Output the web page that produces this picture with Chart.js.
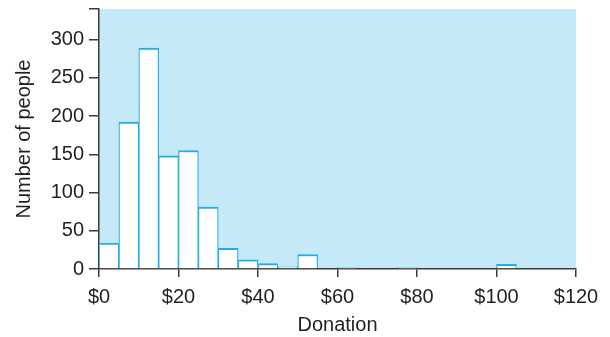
<!DOCTYPE html>
<html>
<head>
<meta charset="utf-8">
<script src="https://cdn.jsdelivr.net/npm/chart.js@4"></script>
<style>
  html, body { margin: 0; padding: 0; background: #ffffff; }
  #wrap { width: 610px; height: 337px; }
</style>
</head>
<body>
<div id="wrap"><canvas id="chart" width="610" height="337"></canvas></div>
<script>
// Histogram of donation amounts, $5 bins (empty bins omitted)
const binLows = [0, 5, 10, 15, 20, 25, 30, 35, 40, 45, 50, 60, 75, 100];
const counts = [34, 192, 289, 148, 155, 81, 27, 12, 7, 3, 19, 2, 2, 6];
const binWidth = 5;
const xTicks = [0, 20, 40, 60, 80, 100, 120];
const yTicks = [0, 50, 100, 150, 200, 250, 300];

const points = binLows.map((lo, i) => ({ x: lo + binWidth / 2, y: counts[i] }));

const plotBackground = {
  id: 'plotBackground',
  beforeDraw(chart) {
    const { ctx, chartArea: a } = chart;
    ctx.save();
    ctx.fillStyle = '#c6e9f8';
    ctx.fillRect(a.left, a.top, a.right - a.left, a.bottom - a.top);
    ctx.restore();
  }
};

const font = { family: '"Liberation Sans", Arial, sans-serif', size: 20 };
const axisColor = '#3a3a3a';

new Chart(document.getElementById('chart'), {
  type: 'bar',
  data: {
    datasets: [{
      data: points,
      backgroundColor: '#ffffff',
      borderColor: '#1fafe8',
      borderWidth: { top: 2, left: 1.2, right: 1.2, bottom: 0 },
      borderSkipped: 'start',
      barPercentage: 1,
      categoryPercentage: 1
    }]
  },
  options: {
    responsive: false,
    animation: false,
    layout: { padding: { left: 0, right: 34, top: 9, bottom: 0 } },
    plugins: { legend: { display: false }, tooltip: { enabled: false } },
    scales: {
      x: {
        type: 'linear',
        min: 0,
        max: 120,
        offset: false,
        afterBuildTicks(scale) { scale.ticks = xTicks.map(v => ({ value: v })); },
        afterFit(scale) { scale.height = 68; },
        ticks: {
          color: '#231f20',
          font,
          padding: 8,
          maxRotation: 0,
          callback: v => '$' + v
        },
        grid: { offset: false, drawOnChartArea: false, drawTicks: true, tickLength: 8, color: axisColor, lineWidth: 1.5 },
        border: { display: true, color: axisColor, width: 1.5 },
        title: { display: true, text: 'Donation', color: '#231f20', font, padding: { top: 0, bottom: 0 } }
      },
      y: {
        type: 'linear',
        min: 0,
        max: 340,
        afterBuildTicks(scale) { scale.ticks = yTicks.concat([340]).map(v => ({ value: v })); },
        afterFit(scale) {
          scale.width = 99;
          scale.paddingTop = 0;
          scale.paddingBottom = 0;
        },
        ticks: {
          color: '#231f20',
          font,
          padding: 5,
          callback: v => (yTicks.includes(v) ? String(v) : '')
        },
        grid: { offset: false, drawOnChartArea: false, drawTicks: true, tickLength: 10, color: axisColor, lineWidth: 1.5 },
        border: { display: true, color: axisColor, width: 1.5 },
        title: { display: true, text: 'Number of people', color: '#231f20', font, padding: { top: 12, bottom: 0 } }
      }
    }
  },
  plugins: [plotBackground]
});
</script>
</body>
</html>
